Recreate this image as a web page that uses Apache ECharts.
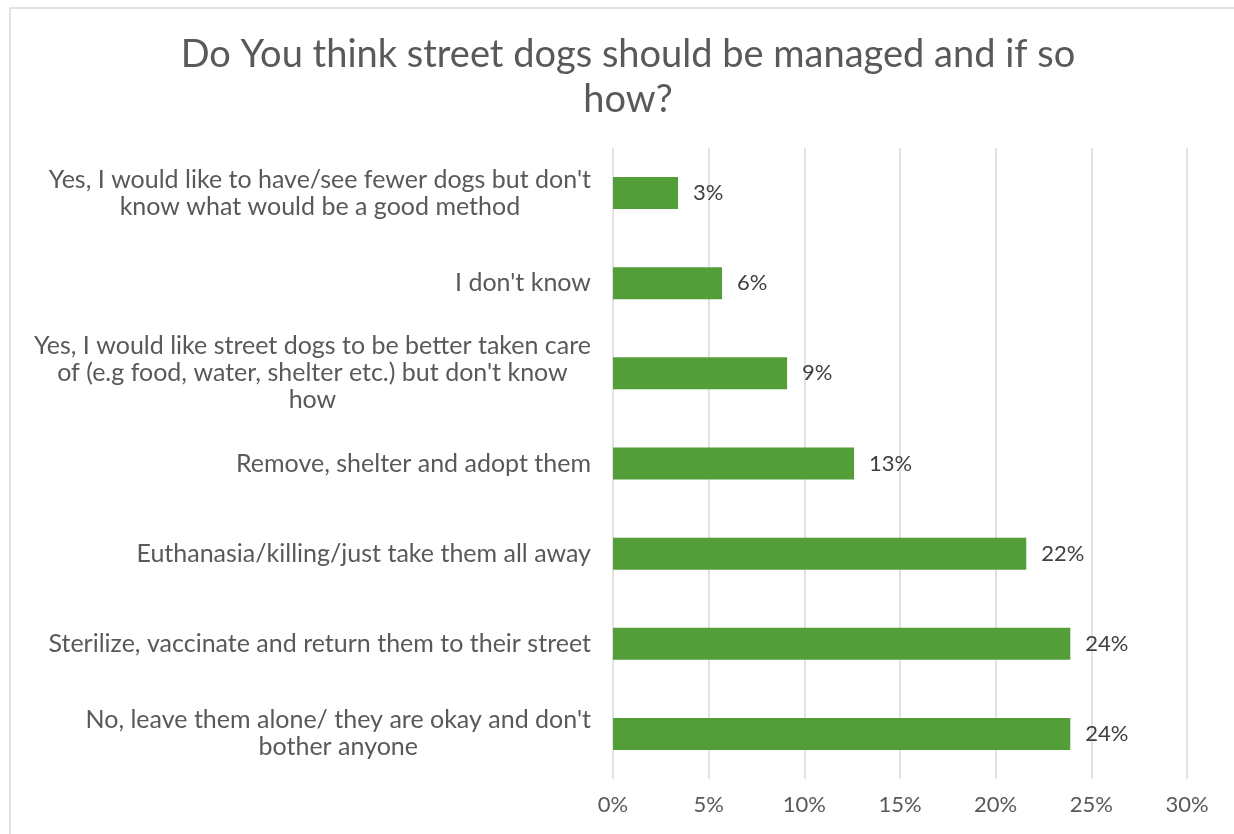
<!DOCTYPE html>
<html>
<head>
<meta charset="utf-8">
<script src="https://cdn.jsdelivr.net/npm/echarts@6/dist/echarts.min.js"></script>
<style>
  html, body { margin: 0; padding: 0; background: #fff; }
  #chart { width: 1234px; height: 834px; }
</style>
</head>
<body>
<div id="chart"></div>
<script>
// 类目（从上到下）
const categories = [
  "Yes, I would like to have/see fewer dogs but don't\nknow what would be a good method",
  "I don't know",
  "Yes, I would like street dogs to be better taken care\nof (e.g food, water, shelter etc.) but don't know\nhow",
  "Remove, shelter and adopt them",
  "Euthanasia/killing/just take them all away",
  "Sterilize, vaccinate and return them to their street",
  "No, leave them alone/ they are okay and don't\nbother anyone"
];
// 百分比
const shares = [3.4, 5.7, 9.1, 12.6, 21.6, 23.9, 23.9];
// x 轴刻度
const xTicks = [0, 5, 10, 15, 20, 25, 30];

const fontFamily = "Lato, 'Liberation Sans', sans-serif";
const chart = echarts.init(document.getElementById("chart"));

const option = {
  backgroundColor: "#fff",
  animation: false,
  graphic: [
    {
      type: "rect",
      shape: { x: 10, y: 8, width: 1240, height: 900 },
      style: { fill: "none", stroke: "#d9d9d9", lineWidth: 1.5 },
      silent: true
    }
  ],
  title: {
    text: "Do You think street dogs should be managed and if so\nhow?",
    left: 623,
    top: 27,
    textAlign: "center",
    textStyle: {
      fontFamily: fontFamily,
      fontWeight: "normal",
      fontSize: 38,
      lineHeight: 45,
      color: "#595959"
    }
  },
  grid: {
    left: 613,
    right: 47,
    top: 148,
    bottom: 55,
    containLabel: false
  },
  xAxis: {
    type: "value",
    min: xTicks[0],
    max: xTicks[xTicks.length - 1],
    interval: 5,
    axisLine: { show: false },
    axisTick: { show: false },
    splitLine: { lineStyle: { color: "#d9d9d9", width: 1.5 } },
    axisLabel: {
      formatter: "{value}%",
      margin: 15,
      fontFamily: fontFamily,
      fontSize: 22,
      color: "#595959"
    }
  },
  yAxis: {
    type: "category",
    data: categories,
    inverse: true,
    axisLine: { show: false },
    axisTick: { show: false },
    axisLabel: {
      margin: 22,
      align: "right",
      fontFamily: fontFamily,
      fontSize: 25,
      lineHeight: 27,
      color: "#595959",
      formatter: (v) => v.split("\n").map((l) => "{c|" + l + "}").join("\n"),
      rich: {
        c: {
          align: "center",
          fontFamily: fontFamily,
          fontSize: 25,
          lineHeight: 27,
          color: "#595959"
        }
      }
    }
  },
  series: [
    {
      type: "bar",
      data: shares,
      barWidth: "35.5%",
      itemStyle: { color: "#549e3a" },
      label: {
        show: true,
        position: "right",
        distance: 15,
        fontFamily: fontFamily,
        fontSize: 22,
        color: "#404040",
        formatter: (p) => Math.round(p.value) + "%"
      }
    }
  ]
};

chart.setOption(option);
</script>
</body>
</html>
